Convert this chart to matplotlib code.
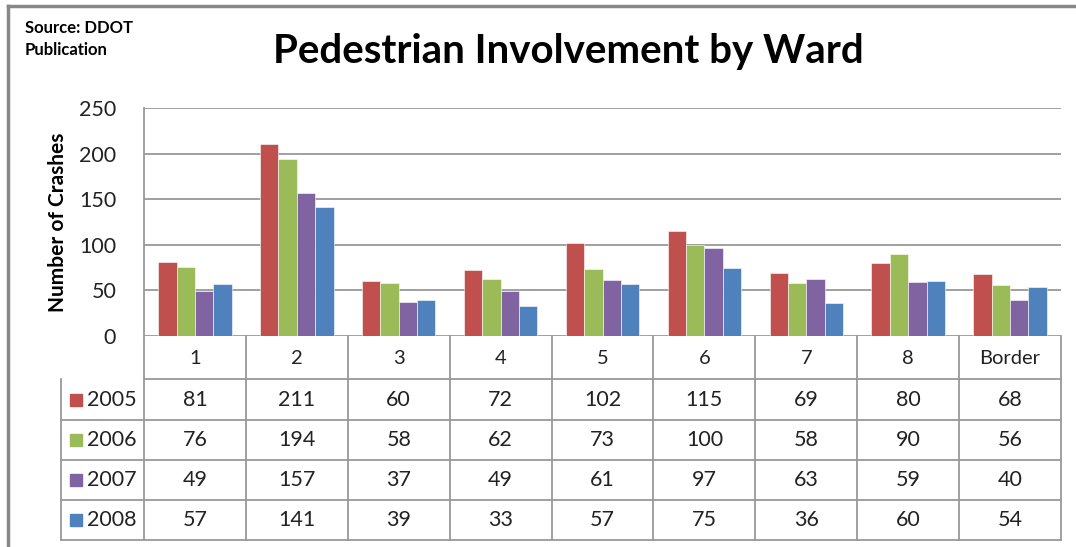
import numpy as np
import matplotlib.pyplot as plt
from matplotlib.lines import Line2D
from matplotlib.patches import Rectangle

plt.rcParams['font.family'] = ['Lato', 'DejaVu Sans']

# data
wards = ['1', '2', '3', '4', '5', '6', '7', '8', 'Border']
years = ['2005', '2006', '2007', '2008']
crashes_2005 = [81, 211, 60, 72, 102, 115, 69, 80, 68]
crashes_2006 = [76, 194, 58, 62, 73, 100, 58, 90, 56]
crashes_2007 = [49, 157, 37, 49, 61, 97, 63, 59, 40]
crashes_2008 = [57, 141, 39, 33, 57, 75, 36, 60, 54]
series = [crashes_2005, crashes_2006, crashes_2007, crashes_2008]
colors = ['#C0504D', '#9BBB59', '#8064A2', '#4F81BD']

W, H = 1076, 547
fig = plt.figure(figsize=(W / 100, H / 100), dpi=100)

def fx(px):
    return px / W

def fy(py):
    return 1 - py / H

# outer border of the chart (only top and left visible)
fig.add_artist(Line2D([fx(8), 1], [fy(6), fy(6)], color='#888888', lw=2.5))
fig.add_artist(Line2D([fx(8), fx(8)], [fy(6), 0], color='#888888', lw=2.5))

# bar axes
left, right, top, bottom = 144, 1061, 108, 336
ax = fig.add_axes([fx(left), fy(bottom), fx(right - left), (bottom - top) / H])
x = np.arange(len(wards))
bw = 0.18
for i, (vals, c) in enumerate(zip(series, colors)):
    ax.bar(x + (i - 1.5) * bw, vals, bw, color=c, edgecolor='white', linewidth=0.4, zorder=3)
ax.set_xlim(-0.5, len(wards) - 0.5)
ax.set_ylim(0, 250)
ax.set_yticks(range(0, 251, 50))
ax.tick_params(axis='y', labelsize=15.5, length=0, pad=20, colors='#222222')
ax.set_xticks([])
ax.grid(axis='y', color='#999999', lw=1.3, zorder=0)
for s in ['top', 'right', 'bottom']:
    ax.spines[s].set_visible(False)
ax.spines['left'].set_color('#999999')
ax.spines['left'].set_linewidth(1.3)
ax.set_ylabel('Number of Crashes', fontsize=15, fontweight='bold', labelpad=8)

# data table below the bars
row_top = [336, 379, 420, 460, 500]
row_bot = [379, 420, 460, 500, 540]
col_w = (right - left) / len(wards)
grid_c = '#999999'
# horizontal lines
fig.add_artist(Line2D([fx(left), fx(right)], [fy(379), fy(379)], color=grid_c, lw=1.3))
for yb in row_bot[1:]:
    fig.add_artist(Line2D([fx(61), fx(right)], [fy(yb), fy(yb)], color=grid_c, lw=1.3))
# vertical lines
for j in range(len(wards) + 1):
    xp = left + j * col_w
    fig.add_artist(Line2D([fx(xp), fx(xp)], [fy(336), fy(540)], color=grid_c, lw=1.3))
fig.add_artist(Line2D([fx(61), fx(61)], [fy(379), fy(540)], color=grid_c, lw=1.3))

for j, w in enumerate(wards):
    xc = left + (j + 0.5) * col_w
    fig.text(fx(xc), fy(358), w, ha='center', va='center', fontsize=14.5, color='#222222')
for r, (yr, vals, c) in enumerate(zip(years, series, colors)):
    yc = (row_top[r + 1] + row_bot[r + 1]) / 2
    fig.add_artist(Rectangle((fx(70), fy(yc + 6)), fx(12), 12 / H, color=c))
    fig.text(fx(87), fy(yc), yr, ha='left', va='center', fontsize=15.5, color='#222222')
    for j, v in enumerate(vals):
        xc = left + (j + 0.5) * col_w
        fig.text(fx(xc), fy(yc), str(v), ha='center', va='center', fontsize=15.5, color='#222222')

# titles
fig.text(fx(568), fy(52), 'Pedestrian Involvement by Ward', ha='center', va='center',
         fontsize=29, fontweight='bold', color='black')
fig.text(fx(25), fy(28), 'Source: DDOT', ha='left', va='center', fontsize=12, fontweight='bold')
fig.text(fx(25), fy(50), 'Publication', ha='left', va='center', fontsize=12, fontweight='bold')

fig.savefig('out.png', dpi=100)
